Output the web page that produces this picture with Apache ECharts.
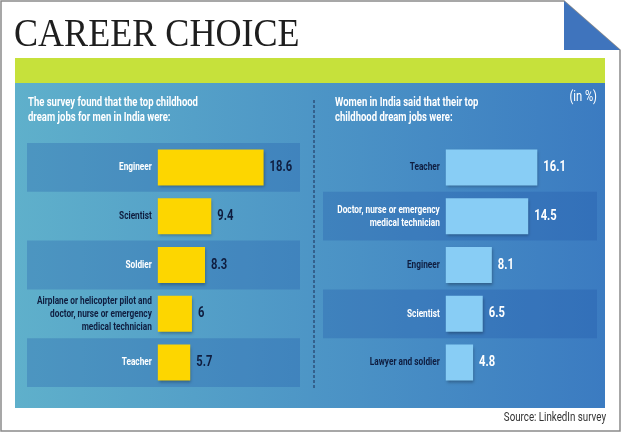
<!DOCTYPE html>
<html><head><meta charset="utf-8">
<script src="https://cdn.jsdelivr.net/npm/echarts@6/dist/echarts.min.js"></script>
<style>html,body{margin:0;padding:0;background:#fff}#c{width:621px;height:432px}</style>
</head><body><div id="c"></div>
<script>
const menCategories = ['Engineer', 'Scientist', 'Soldier', 'Airplane or helicopter pilot and\ndoctor, nurse or emergency\nmedical technician', 'Teacher'];
const menValues = [18.6, 9.4, 8.3, 6, 5.7];
const womenCategories = ['Teacher', 'Doctor, nurse or emergency\nmedical technician', 'Engineer', 'Scientist', 'Lawyer and soldier'];
const womenValues = [16.1, 14.5, 8.1, 6.5, 4.8];

const FONT = "Roboto, 'Liberation Sans', sans-serif";
const NAVY = '#0f1d3f';
const BAND = 'rgba(30,80,165,0.27)';
const CAT_SX = 0.72, VAL_SX = 0.8;

function labelSeries(gridIdx, cats, vals, catColor, valColor) {
  return {
    type: 'custom', xAxisIndex: gridIdx, yAxisIndex: gridIdx, z: 5,
    data: vals.map((v, i) => [v, i]),
    encode: {x: 0, y: 1},
    renderItem: function (params, api) {
      const idx = api.value(1), v = api.value(0);
      const p0 = api.coord([0, idx]);
      const p1 = api.coord([v, idx]);
      return {type: 'group', children: [
        {type: 'text', x: p0[0] - 6, y: p0[1], scaleX: CAT_SX,
          style: {text: cats[idx], align: 'right', verticalAlign: 'middle', fontFamily: FONT, fontWeight: 'bold', fontSize: 11.5, lineHeight: 13, fill: catColor(idx)}},
        {type: 'text', x: p1[0] + 6, y: p1[1], scaleX: VAL_SX,
          style: {text: String(vals[idx]), align: 'left', verticalAlign: 'middle', fontFamily: FONT, fontWeight: 'bold', fontSize: 14, fill: valColor}}
      ]};
    }
  };
}

const chart = echarts.init(document.getElementById('c'), null, {renderer: 'canvas'});
chart.setOption({
  animation: false,
  graphic: [
    {type: 'polygon', shape: {points: [[1,1],[564,1],[620,50],[620,431],[1,431]]}, style: {fill: '#fff', stroke: '#8a8a8a', lineWidth: 1.5}, z: -10},
    {type: 'polygon', shape: {points: [[564,1],[564,50],[620,50]]}, style: {fill: '#3f74bd'}, z: -9},
    {type: 'rect', shape: {x: 15, y: 58, width: 590, height: 25}, style: {fill: '#c6e13b'}, z: -9},
    {type: 'rect', shape: {x: 15, y: 83, width: 590, height: 325},
      style: {fill: new echarts.graphic.LinearGradient(0, 0, 1, 0, [{offset: 0, color: '#5fb0cb'}, {offset: 1, color: '#3b7bc1'}])}, z: -9},
    {type: 'line', shape: {x1: 314, y1: 100, x2: 314, y2: 390}, style: {stroke: '#1c2c55', lineWidth: 1, lineDash: [3, 2]}, z: -8},
    {type: 'text', x: 14, y: 36, scaleX: 0.925, style: {text: 'CAREER CHOICE', fontFamily: "'Liberation Serif', serif", fontSize: 39, fill: '#1e1e1e', verticalAlign: 'middle'}},
    {type: 'text', x: 28, y: 110, scaleX: 0.76, style: {text: 'The survey found that the top childhood\ndream jobs for men in India were:', fontFamily: FONT, fontWeight: 'bold', fontSize: 12.5, lineHeight: 15, fill: '#fff', verticalAlign: 'middle'}},
    {type: 'text', x: 335, y: 110, scaleX: 0.76, style: {text: 'Women in India said that their top\nchildhood dream jobs were:', fontFamily: FONT, fontWeight: 'bold', fontSize: 12.5, lineHeight: 15, fill: '#fff', verticalAlign: 'middle'}},
    {type: 'text', x: 597, y: 97, scaleX: 0.8, style: {text: '(in %)', fontFamily: FONT, fontSize: 14, fill: '#fff', align: 'right', verticalAlign: 'middle'}},
    {type: 'text', x: 606, y: 418, scaleX: 0.75, style: {text: 'Source: LinkedIn survey', fontFamily: FONT, fontSize: 13, fill: '#333', align: 'right', verticalAlign: 'middle'}}
  ],
  grid: [
    {left: 27, top: 143, width: 273, height: 244, containLabel: false, outerBoundsMode: 'none'},
    {left: 323, top: 143, width: 274, height: 244, containLabel: false, outerBoundsMode: 'none'}
  ],
  xAxis: [
    {gridIndex: 0, type: 'value', min: -23, max: 25, show: false, splitLine: {show: false}},
    {gridIndex: 1, type: 'value', min: -21.6, max: 26.6, show: false, splitLine: {show: false}}
  ],
  yAxis: [
    {gridIndex: 0, type: 'category', inverse: true, data: menCategories,
      axisLine: {show: false}, axisTick: {show: false}, axisLabel: {show: false},
      splitArea: {show: true, areaStyle: {color: [BAND, 'rgba(0,0,0,0)']}}},
    {gridIndex: 1, type: 'category', inverse: true, data: womenCategories,
      axisLine: {show: false}, axisTick: {show: false}, axisLabel: {show: false},
      splitArea: {show: true, areaStyle: {color: ['rgba(0,0,0,0)', BAND]}}}
  ],
  series: [
    {type: 'bar', xAxisIndex: 0, yAxisIndex: 0, data: menValues, barWidth: 36,
      itemStyle: {color: '#fdd600', shadowColor: 'rgba(0,0,0,0.3)', shadowBlur: 3, shadowOffsetX: 1, shadowOffsetY: 2}},
    {type: 'bar', xAxisIndex: 1, yAxisIndex: 1, data: womenValues, barWidth: 36,
      itemStyle: {color: '#88cdf5', shadowColor: 'rgba(0,0,0,0.3)', shadowBlur: 3, shadowOffsetX: 1, shadowOffsetY: 2}},
    labelSeries(0, menCategories, menValues, i => (i % 2 === 0 ? '#ffffff' : NAVY), NAVY),
    labelSeries(1, womenCategories, womenValues, i => (i % 2 === 1 ? '#ffffff' : NAVY), '#ffffff')
  ]
});
</script></body></html>
